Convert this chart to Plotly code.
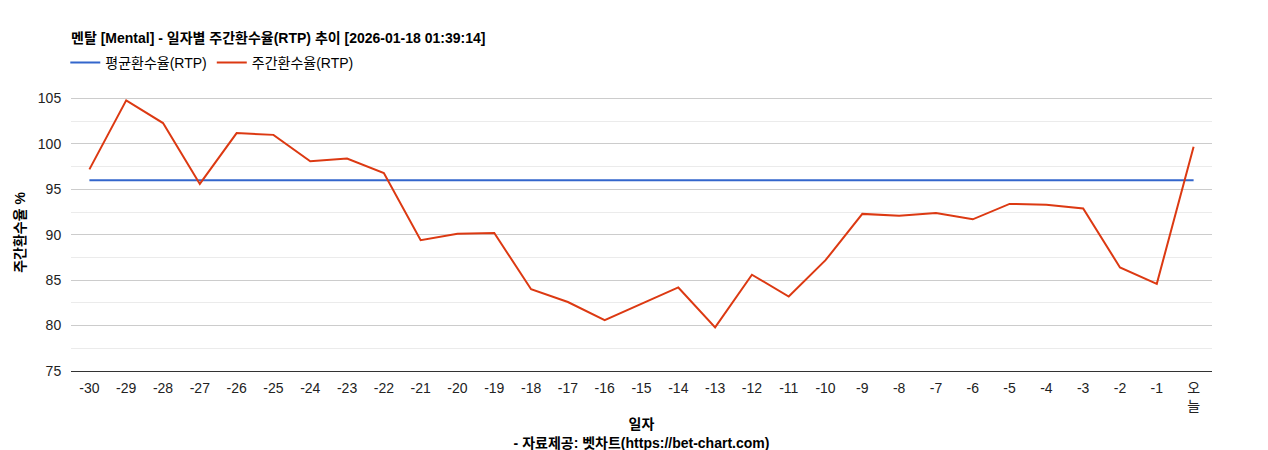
import plotly.graph_objects as go

days = [str(i) for i in range(-30, 0)] + ["오늘"]
tick_text = [str(i) for i in range(-30, 0)] + ["오<br>늘"]
rtp = [97.2, 104.8, 102.3, 95.6, 101.2, 101.0, 98.1, 98.4, 96.8, 89.4, 90.1, 90.2,
       84.0, 82.6, 80.6, 82.4, 84.2, 79.8, 85.6, 83.2, 87.2, 92.3, 92.1, 92.4, 91.7,
       93.4, 93.3, 92.9, 86.4, 84.6, 99.7]
avg = [96.0] * len(days)

font = "Liberation Sans, Noto Sans CJK KR"
fig = go.Figure()
fig.add_trace(go.Scatter(x=days, y=avg, mode="lines", name="평균환수율(RTP)",
                         line=dict(color="#3366cc", width=2)))
fig.add_trace(go.Scatter(x=days, y=rtp, mode="lines", name="주간환수율(RTP)",
                         line=dict(color="#dc3912", width=2)))
fig.update_layout(
    width=1268, height=450, plot_bgcolor="white", paper_bgcolor="white",
    margin=dict(l=63, r=64, t=86, b=87, autoexpand=False),
    font=dict(family=font, size=14, color="#222"),
    title=dict(text="<b>멘탈 [Mental] - 일자별 주간환수율(RTP) 추이 [2026-01-18 01:39:14]</b>",
               x=0.0, xref="paper", xanchor="left", y=0.933, yanchor="middle",
               font=dict(size=14, color="#000")),
    legend=dict(orientation="h", x=-0.005, xanchor="left", y=1.112, yanchor="middle",
                font=dict(size=14, color="#000"), traceorder="normal"),
    showlegend=True,
)
fig.update_xaxes(type="category", range=[-0.5, 30.5], tickmode="array", tickvals=days, ticktext=tick_text,
                 showgrid=False, showline=True, linecolor="#333", ticks="outside", ticklen=4, tickcolor="white",
                 title=dict(text="<b>일자<br>- 자료제공: 벳차트(https://bet-chart.com)</b>",
                            font=dict(size=14, color="#000"), standoff=6),
                 tickfont=dict(size=14, color="#222"))
fig.update_yaxes(range=[75, 105.5], tickvals=[75, 80, 85, 90, 95, 100, 105],
                 gridcolor="#cccccc", zeroline=False, ticks="outside", ticklen=6, tickcolor="white",
                 minor=dict(tickvals=[77.5, 82.5, 87.5, 92.5, 97.5, 102.5], showgrid=True, gridcolor="#ebebeb"),
                 title=dict(text="<b>주간환수율 %</b>", font=dict(size=14, color="#000"), standoff=8),
                 tickfont=dict(size=14, color="#222"))
fig.write_html("out.html")
